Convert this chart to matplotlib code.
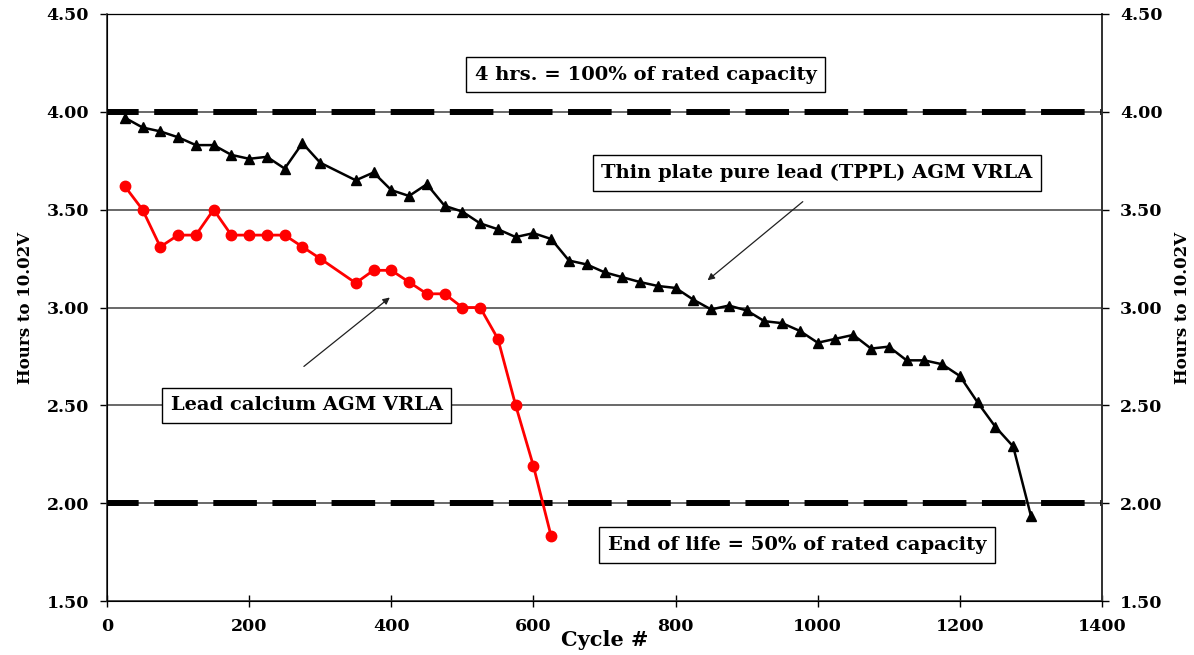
import matplotlib
matplotlib.use("Agg")
import matplotlib.pyplot as plt

plt.rcParams["font.family"] = ["DejaVu Serif"]
plt.rcParams["font.weight"] = "bold"
plt.rcParams["axes.labelweight"] = "bold"

# cycle number vs hours to 10.02V
cycles_tppl = [25, 50, 75, 100, 125, 150, 175, 200, 225, 250, 275, 300,
               350, 375, 400, 425, 450, 475, 500, 525, 550, 575, 600, 625,
               650, 675, 700, 725, 750, 775, 800, 825, 850, 875, 900, 925,
               950, 975, 1000, 1025, 1050, 1075, 1100, 1125, 1150, 1175,
               1200, 1225, 1250, 1275, 1300]
hours_tppl = [3.97, 3.92, 3.90, 3.87, 3.83, 3.83, 3.78, 3.76, 3.77, 3.71, 3.84, 3.74,
              3.65, 3.69, 3.60, 3.57, 3.63, 3.52, 3.49, 3.43, 3.40, 3.36, 3.38, 3.35,
              3.24, 3.22, 3.18, 3.155, 3.13, 3.11, 3.10, 3.04, 2.99, 3.01, 2.985, 2.93,
              2.92, 2.88, 2.82, 2.84, 2.86, 2.79, 2.80, 2.73, 2.73, 2.71,
              2.65, 2.515, 2.39, 2.29, 1.935]

cycles_leadcal = [25, 50, 75, 100, 125, 150, 175, 200, 225, 250, 275, 300,
                  350, 375, 400, 425, 450, 475, 500, 525, 550, 575, 600, 625]
hours_leadcal = [3.62, 3.50, 3.31, 3.37, 3.37, 3.50, 3.37, 3.37, 3.37, 3.37, 3.31, 3.25,
                 3.125, 3.19, 3.19, 3.13, 3.07, 3.07, 3.00, 3.00, 2.84, 2.50, 2.19, 1.83]

RATED_HOURS = 4.0
END_OF_LIFE = 2.0
y_ticks = [1.5, 2.0, 2.5, 3.0, 3.5, 4.0, 4.5]
x_ticks = [0, 200, 400, 600, 800, 1000, 1200, 1400]

GRID_COL = "#404040"
BOX = dict(boxstyle="square,pad=0.45", fc="white", ec="black", lw=1.0)
TICK_FS = 12.5
BOX_FS = 14


def setup_axes(ax):
    ax.set_xlim(0, 1400)
    ax.set_ylim(1.5, 4.5)
    ax.set_xticks(x_ticks)
    ax.set_yticks(y_ticks)
    ax.set_yticklabels([f"{v:.2f}" for v in y_ticks])
    ax.tick_params(axis="x", direction="inout", length=9, width=1, labelsize=TICK_FS, pad=8)
    ax.tick_params(axis="y", direction="out", length=5, width=1, labelsize=TICK_FS, pad=8)
    for side in ["left", "right", "bottom"]:
        ax.spines[side].set_color("#303030")
        ax.spines[side].set_linewidth(1.2)
    ax.spines["top"].set_color("#909090")
    ax.spines["top"].set_linewidth(1.0)

    for v in y_ticks[1:-1]:
        ax.axhline(v, color=GRID_COL, lw=1.1, zorder=1)


fig = plt.figure(figsize=(11.94, 6.55), dpi=100)
ax = fig.add_axes([107 / 1194, 54 / 655, 995 / 1194, 587 / 655])
setup_axes(ax)

for lvl in [RATED_HOURS, END_OF_LIFE]:
    ax.axhline(lvl, color="black", lw=4.3, ls=(2, (7.3, 2.6)),
               dash_capstyle="butt", zorder=2)

ax.plot(cycles_tppl, hours_tppl, color="black", lw=1.8, marker="^",
        ms=7.5, zorder=4, clip_on=False)
ax.plot(cycles_leadcal, hours_leadcal, color="#ff0000", lw=2.0, marker="o",
        ms=7.5, zorder=4, clip_on=False)

ax.text(758, 4.19, "4 hrs. = 100% of rated capacity", ha="center", va="center",
        fontsize=BOX_FS, bbox=BOX, zorder=5)
ax.text(999, 3.687, "Thin plate pure lead (TPPL) AGM VRLA", ha="center", va="center",
        fontsize=BOX_FS, bbox=BOX, zorder=5)
ax.text(281, 2.50, "Lead calcium AGM VRLA", ha="center", va="center",
        fontsize=BOX_FS, bbox=BOX, zorder=5)
ax.text(971, 1.786, "End of life = 50% of rated capacity", ha="center", va="center",
        fontsize=BOX_FS, bbox=BOX, zorder=5)

ax.annotate("", xy=(842, 3.13), xytext=(982, 3.55),
            arrowprops=dict(arrowstyle="-|>", color="#202020", lw=0.9,
                            mutation_scale=10), zorder=5)
ax.annotate("", xy=(401, 3.06), xytext=(274, 2.69),
            arrowprops=dict(arrowstyle="-|>", color="#202020", lw=0.9,
                            mutation_scale=10), zorder=5)

ax.set_xlabel("Cycle #", fontsize=15, labelpad=-4)
ax.set_ylabel("Hours to 10.02V", fontsize=12, labelpad=9)

ax_r = ax.twinx()
ax_r.set_ylim(1.5, 4.5)
ax_r.set_yticks(y_ticks)
ax_r.set_yticklabels([f"{v:.2f}" for v in y_ticks])
ax_r.tick_params(axis="y", direction="out", length=5, width=1, labelsize=TICK_FS, pad=8)
ax_r.spines["right"].set_color("#303030")
ax_r.spines["right"].set_linewidth(1.2)
ax_r.set_ylabel("Hours to 10.02V", fontsize=12, labelpad=8)

fig.savefig("out.png", dpi=100)
